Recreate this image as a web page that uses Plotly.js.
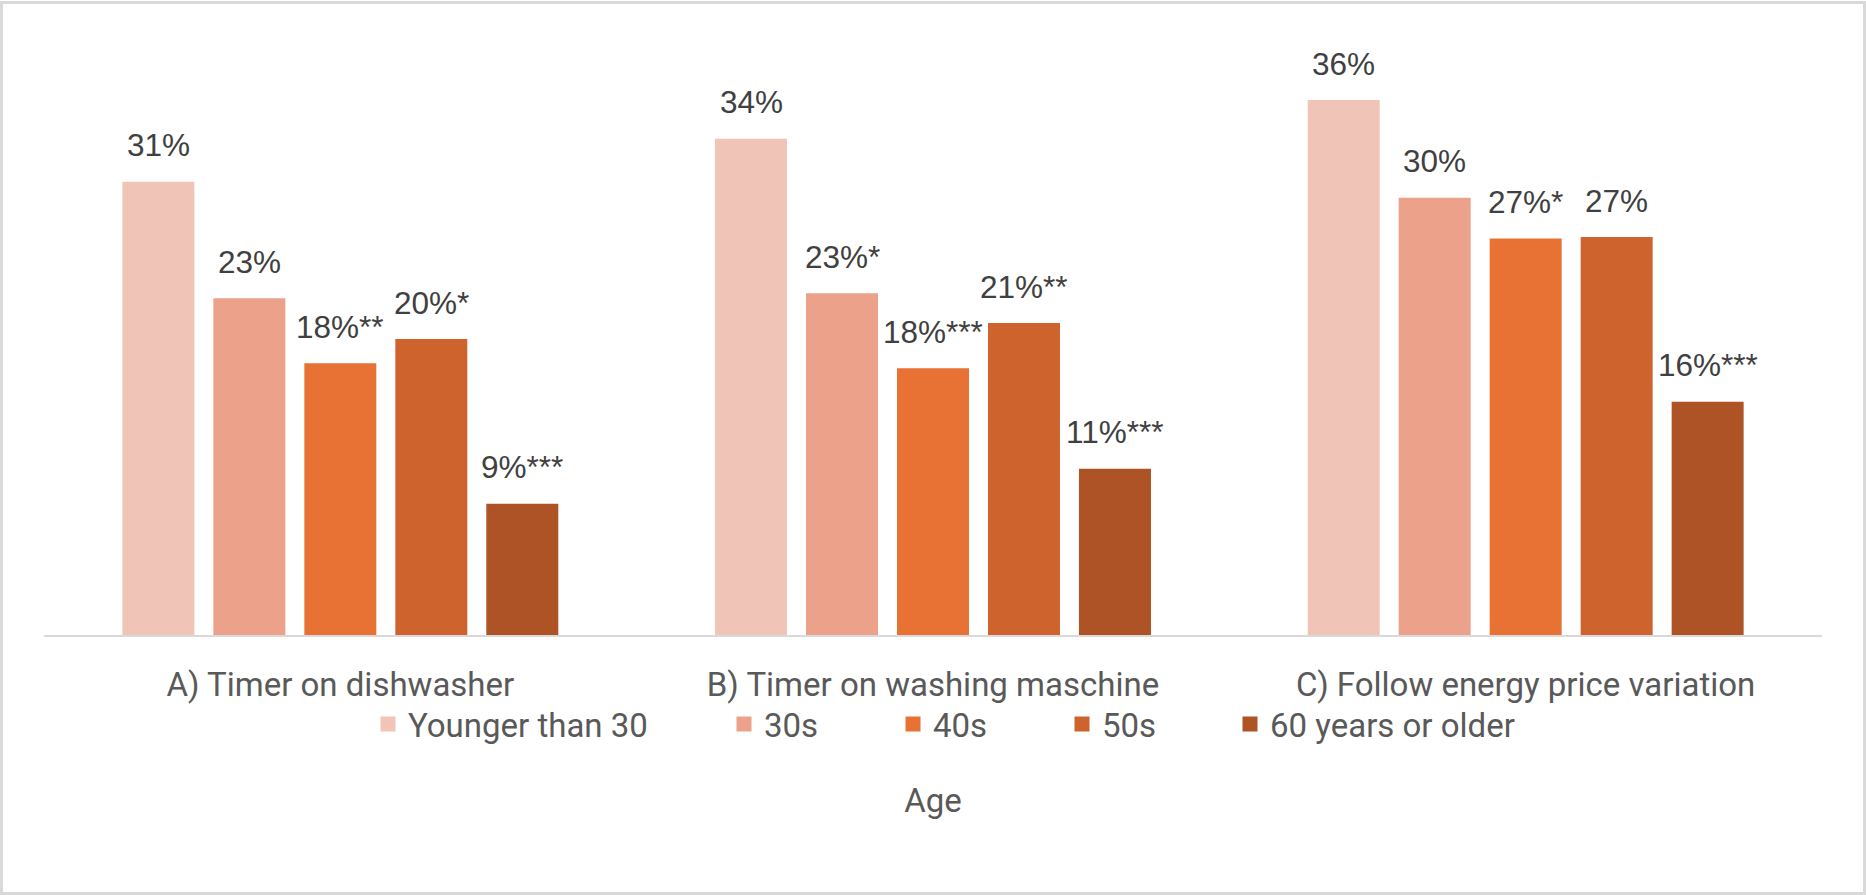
<!DOCTYPE html>
<html><head><meta charset="utf-8">
<script src="https://cdn.plot.ly/plotly-3.0.1.min.js"></script>
<style>
html,body{margin:0;padding:0;background:#fff;}
#wrap{position:relative;width:1866px;height:895px;}
#chart{width:1866px;height:895px;}
#frame{position:absolute;left:0;top:1px;width:1866px;height:894px;box-sizing:border-box;border:3px solid #d9d9d9;pointer-events:none;}
</style></head><body>
<div id="wrap"><div id="chart"></div><div id="frame"></div></div>
<script>
// ---- data ----
const categories = ["A) Timer on dishwasher", "B) Timer on washing maschine", "C) Follow energy price variation"];
const seriesNames = ["Younger than 30", "30s", "40s", "50s", "60 years or older"];
const youngerThan30 = [31.0, 33.95, 36.6];
const thirties = [23.0, 23.35, 29.9];
const forties = [18.55, 18.2, 27.1];
const fifties = [20.2, 21.3, 27.2];
const sixtiesPlus = [8.9, 11.3, 15.9];
const youngerLabels = ["31%", "34%", "36%"];
const thirtiesLabels = ["23%", "23%*", "30%"];
const fortiesLabels = ["18%**", "18%***", "27%*"];
const fiftiesLabels = ["20%*", "21%**", "27%"];
const sixtiesLabels = ["9%***", "11%***", "16%***"];
const axisTitle = "Age";

// ---- styling ----
const W = 1866, H = 895;
const M = {l: 44, r: 44, t: 52, b: 260};
const plotW = W - M.l - M.r, plotH = H - M.t - M.b;
const bargap = 0.2324, bargroupgap = 0.2418, lineW = 3;
const colors = ["#F1C4B8", "#ECA18A", "#E87134", "#CF632E", "#AE5325"];
const values = [youngerThan30, thirties, forties, fifties, sixtiesPlus];
const labels = [youngerLabels, thirtiesLabels, fortiesLabels, fiftiesLabels, sixtiesLabels];
const textFont = "Roboto, 'Liberation Sans', sans-serif";
const labelFont = "'Liberation Sans', Arial, sans-serif";
const legendLeftPx = [368, 724, 893, 1062, 1230];
const legendCenterPx = 724;

const traces = values.map((v, i) => ({
  type: 'bar', x: categories, y: v, name: seriesNames[i],
  marker: {color: colors[i], line: {color: colors[i], width: lineW}},
  legend: i === 0 ? 'legend' : 'legend' + (i + 1),
  hoverinfo: 'skip'
}));

const slot = plotW / categories.length * (1 - bargap) / seriesNames.length;
const annotations = [];
values.forEach((v, i) => {
  v.forEach((val, j) => {
    annotations.push({
      x: categories[j], y: val, xref: 'x', yref: 'y',
      text: labels[i][j], showarrow: false,
      xanchor: 'center', yanchor: 'bottom',
      xshift: (i - (seriesNames.length - 1) / 2) * slot, yshift: 18,
      font: {family: labelFont, size: 31.5, color: '#404040'}
    });
  });
});

const layout = {
  width: W, height: H, margin: M,
  paper_bgcolor: '#ffffff', plot_bgcolor: '#ffffff',
  barmode: 'group', bargap: bargap, bargroupgap: bargroupgap,
  xaxis: {
    type: 'category', showline: true, linecolor: '#d9d9d9', linewidth: 2,
    ticks: '', showgrid: false, zeroline: false, automargin: false,
    tickfont: {family: textFont, size: 33, color: '#595959'},
    ticklabelstandoff: 19,
    title: {text: axisTitle, font: {family: textFont, size: 33, color: '#595959'}, standoff: 86}
  },
  yaxis: {range: [0, 40], visible: false, showgrid: false, zeroline: false, fixedrange: true},
  annotations: annotations,
  showlegend: true
};
seriesNames.forEach((n, i) => {
  layout[i === 0 ? 'legend' : 'legend' + (i + 1)] = {
    orientation: 'h', xref: 'paper', yref: 'paper',
    x: (legendLeftPx[i] - M.l) / plotW, xanchor: 'left',
    y: (H - M.b - legendCenterPx) / plotH, yanchor: 'middle',
    bgcolor: 'rgba(0,0,0,0)', borderwidth: 0,
    font: {family: textFont, size: 33, color: '#595959'}
  };
});

Plotly.newPlot('chart', traces, layout, {displayModeBar: false, staticPlot: true});
</script>
</body></html>
